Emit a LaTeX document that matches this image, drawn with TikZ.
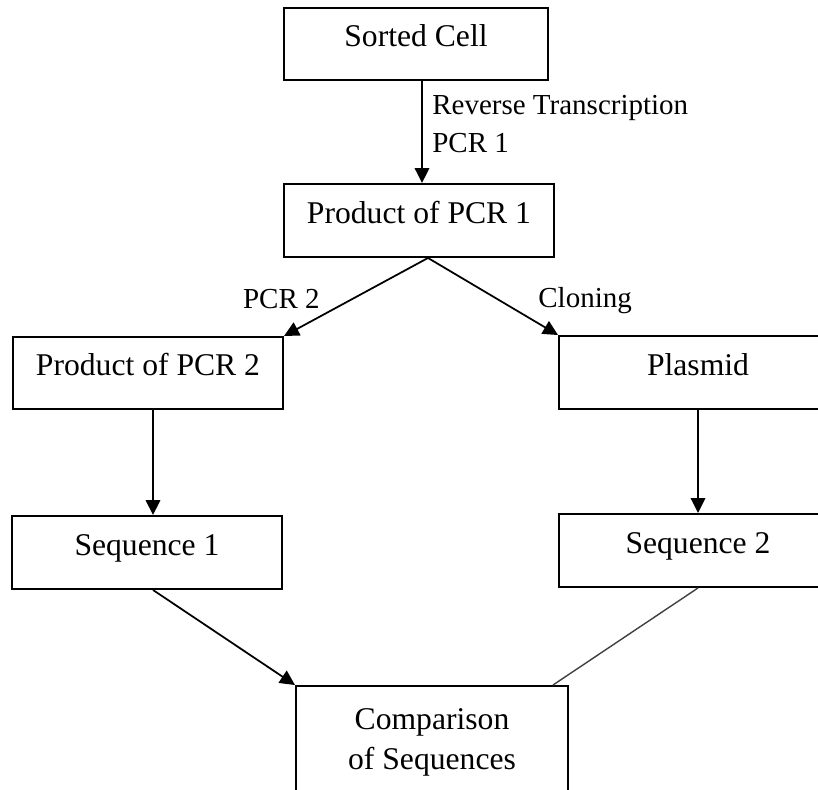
\documentclass[tikz,border=0pt]{standalone}
\usepackage{fontspec}
\setmainfont{Liberation Serif}
\usepackage{tikz}
\usetikzlibrary{arrows.meta,positioning,calc}

\begin{document}
\begin{tikzpicture}[
  font=\fontsize{18}{22.8}\selectfont,
  stagebox/.style={draw=black, line width=1.1pt, minimum width=5.40cm, minimum height=1.46cm, align=center, inner sep=2pt},
  oneline/.style={stagebox, text height=0.69em, text depth=0.35em},
  flow/.style={line width=1pt, -{Triangle[length=0.30cm, width=0.29cm]}},
  plainlink/.style={line width=0.8pt, draw=black!75},
  lab/.style={font=\fontsize{16.5}{21.6}\selectfont, inner sep=0pt, align=left}
]
\path[use as bounding box, clip] (0,0) rectangle (16.36,-15.78);

\node[oneline, minimum width=5.28cm, minimum height=1.44cm] (sorted) at (8.32,-0.88) {Sorted Cell};
\node[oneline] (prod1) at (8.38,-4.41) {Product of PCR 1};
\node[oneline, minimum height=1.44cm] (prod2) at (2.96,-7.46) {Product of PCR 2};
\node[oneline, minimum width=5.56cm] (plasmid) at (13.96,-7.45) {Plasmid};
\node[oneline] (seq1) at (2.94,-11.05) {Sequence 1};
\node[oneline, minimum width=5.56cm] (seq2) at (13.96,-11.01) {Sequence 2};
\node[stagebox, minimum width=5.44cm, minimum height=2.24cm] (comp) at (8.64,-14.84) {Comparison\\of Sequences};

\coordinate (split) at ($(prod1.south)+(0.18,0)$);
\coordinate (seq1out) at ($(seq1.south)+(0.12,0)$);
\coordinate (compin) at ($(comp.north east)+(-0.32,0)$);

\draw[flow] ($(sorted.south)+(0.12,0)$) -- ($(prod1.north)+(0.06,0)$);
\node[lab, anchor=north west] (rtlab) at (8.64,-1.90) {Reverse Transcription\\PCR 1};

\draw[flow] (split) -- (prod2.north east);
\draw[flow] (split) -- (plasmid.north west);
\node[lab, anchor=base east] (pcrlab) at (6.40,-6.16) {PCR 2};
\node[lab, anchor=base west] (clonlab) at (10.76,-6.14) {Cloning};

\draw[flow] ($(prod2.south)+(0.10,0)$) -- ($(seq1.north)+(0.12,0)$);
\draw[flow] (plasmid.south) -- (seq2.north);

\draw[flow] (seq1out) -- (comp.north west);
\draw[plainlink] (seq2.south) -- (compin);
\end{tikzpicture}
\end{document}
